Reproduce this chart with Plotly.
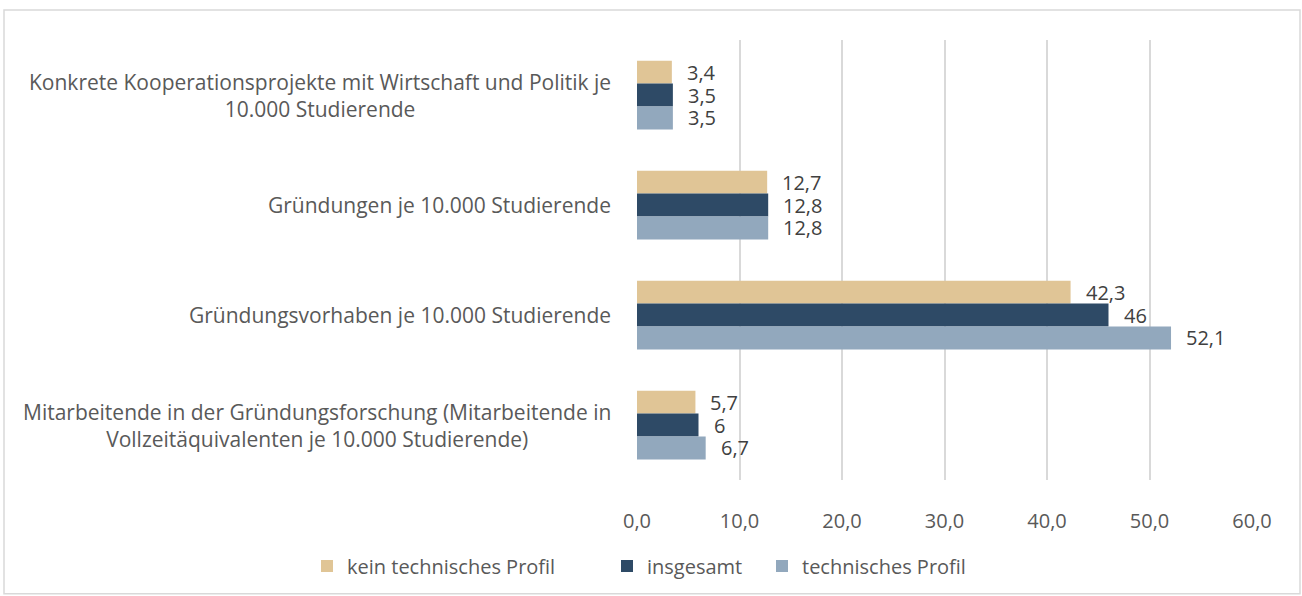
import plotly.graph_objects as go

categories = [
    "Konkrete Kooperationsprojekte mit Wirtschaft und Politik je<br>10.000 Studierende",
    "Gründungen je 10.000 Studierende",
    "Gründungsvorhaben je 10.000 Studierende",
    "Mitarbeitende in der Gründungsforschung (Mitarbeitende in<br>Vollzeitäquivalenten je 10.000 Studierende)",
]
series_names = ["kein technisches Profil", "insgesamt", "technisches Profil"]
kein_technisch = [3.4, 12.7, 42.3, 5.7]
insgesamt = [3.5, 12.8, 46, 6]
technisch = [3.5, 12.8, 52.1, 6.7]
x_ticks = [0, 10, 20, 30, 40, 50, 60]

colors = ["#E0C596", "#2E4A66", "#92A8BD"]
W, H = 1302, 596
L, R, T, B = 637, 1252, 40, 481
pw, ph = R - L, B - T
FONT = "Open Sans"
TXT = "#595959"
BARGAP = 0.375
legend_left_px = [307, 607, 762]


def fmt(v):
    return str(v).replace(".", ",")


all_series = [kein_technisch, insgesamt, technisch]
n = len(all_series)
bw = (1 - BARGAP) / n
legend_ids = ["legend", "legend2", "legend3"]

fig = go.Figure()
for name, vals, col, lid in zip(series_names, all_series, colors, legend_ids):
    fig.add_trace(go.Bar(
        y=list(range(len(categories))), x=vals, name=name, orientation="h",
        marker=dict(color=col, line=dict(width=0)),
        hoverinfo="x+name", legend=lid,
    ))

# data labels, placed through data coordinates with a pixel offset
for k, vals in enumerate(all_series):
    for i, v in enumerate(vals):
        fig.add_annotation(
            x=v, xref="x", xanchor="left", xshift=14,
            y=i + (k - (n - 1) / 2) * bw, yref="y", yanchor="middle",
            text=fmt(v), showarrow=False, borderpad=0,
            font=dict(family=FONT, size=20, color="#404040"),
        )

# category labels (centered lines, block right-aligned to the axis)
for i, c in enumerate(categories):
    fig.add_annotation(
        x=0, xref="paper", xanchor="right", xshift=-24,
        y=i, yref="y", yanchor="middle",
        text=c, showarrow=False, align="center",
        font=dict(family=FONT, size=21, color=TXT),
    )

fig.add_shape(type="rect", xref="paper", yref="paper",
              x0=(4 - L) / pw, x1=(1300 - L) / pw,
              y0=(B - 595) / ph, y1=(B - 10) / ph,
              line=dict(color="#D9D9D9", width=1.5), fillcolor="rgba(0,0,0,0)", layer="below")

legend_common = dict(orientation="h", xanchor="left", y=(B - 566) / ph, yanchor="middle",
                     font=dict(family=FONT, size=20, color=TXT), itemwidth=30,
                     bgcolor="rgba(0,0,0,0)")

fig.update_layout(
    width=W, height=H,
    margin=dict(l=L, r=W - R, t=T, b=H - B),
    paper_bgcolor="white", plot_bgcolor="white",
    barmode="group", bargap=BARGAP, bargroupgap=0,
    separators=",.",
    font=dict(family=FONT, size=20, color=TXT),
    showlegend=True,
    legend=dict(x=(legend_left_px[0] - L) / pw, **legend_common),
    legend2=dict(x=(legend_left_px[1] - L) / pw, **legend_common),
    legend3=dict(x=(legend_left_px[2] - L) / pw, **legend_common),
    xaxis=dict(range=[0, 60], tickvals=x_ticks, tickformat=".1f",
               showgrid=True, gridcolor="#D9D9D9", gridwidth=1.5,
               zeroline=False, showline=False, ticks="",
               tickfont=dict(family=FONT, size=20, color=TXT), ticklabelstandoff=27),
    yaxis=dict(range=[len(categories) - 0.5, -0.5], showticklabels=False, showgrid=False,
               zeroline=False, showline=False, ticks=""),
)

fig.write_html("out.html", config={"displayModeBar": False},
               post_script="document.body.style.margin='0';")
